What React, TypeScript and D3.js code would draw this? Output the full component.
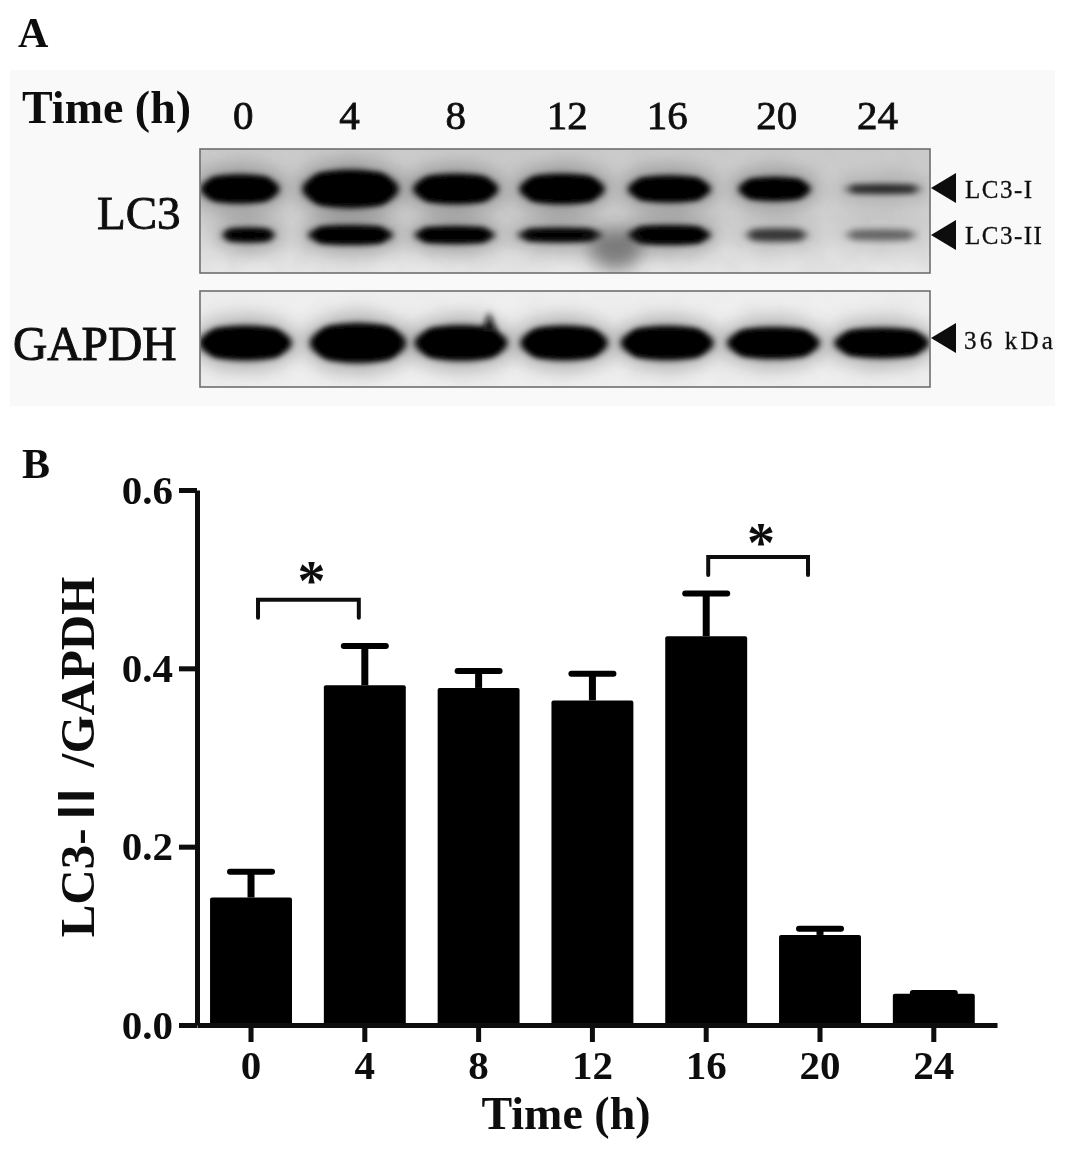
import React, { useEffect, useRef } from "react";
import * as d3 from "d3";

// ---------- data ----------
const times = ["0", "4", "8", "12", "16", "20", "24"];
const ratio = [0.143, 0.381, 0.378, 0.364, 0.436, 0.101, 0.035];
const ratioUpper = [0.172, 0.425, 0.397, 0.394, 0.484, 0.108, 0.036];
const yTicks = [0, 0.2, 0.4, 0.6];
const comparisons = [
  { from: "0", to: "4", level: 0.477 },
  { from: "16", to: "20", level: 0.525 },
];
// blot bands, in lane units
const lc3ILane = [0, 1.03, 2.01, 3.0, 4.0, 4.98, 5.99];
const lc3ISpan = [0.74, 0.9, 0.8, 0.8, 0.78, 0.68, 0.74];
const lc3IThick = [0.74, 1.0, 0.78, 0.78, 0.68, 0.6, 0.22];
const lc3IDensity = [1, 1, 1, 1, 1, 1, 0.62];
const lc3IILane = [0.08, 1.03, 2.0, 2.98, 4.0, 5.0, 5.97];
const lc3IISpan = [0.5, 0.8, 0.76, 0.8, 0.78, 0.6, 0.7];
const lc3IIThick = [0.34, 0.48, 0.42, 0.34, 0.48, 0.34, 0.3];
const lc3IIDensity = [0.95, 1, 1, 0.92, 1, 0.48, 0.3];
const gapdhLane = [0.05, 1.1, 2.06, 3.02, 3.98, 4.97, 5.98];
const gapdhSpan = [0.87, 0.9, 0.87, 0.82, 0.87, 0.87, 0.89];
const gapdhThick = [0.9, 1.04, 0.92, 0.9, 0.88, 0.82, 0.78];
const headerLane = [0.03, 1.02, 2.01, 3.05, 3.98, 5.0, 5.94];

const serif = "'Liberation Serif', 'Noto Sans CJK SC', serif";

export default function App() {
  const xAxisRef = useRef<SVGGElement>(null);
  const yAxisRef = useRef<SVGGElement>(null);

  const x = d3.scaleBand<string>().domain(times).range([197, 997]).paddingInner(0.28).paddingOuter(0.155).align(0.37);
  const y = d3.scaleLinear().domain([0, 0.6]).range([1025, 490]);
  const lane = d3.scaleLinear().domain([0, 6]).range([240, 884]);
  const laneLen = (v: number) => lane(v) - lane(0);
  const thick = d3.scaleLinear().domain([0, 1]).range([0, 38]);
  const mid = (k: string) => (x(k) as number) + x.bandwidth() / 2;

  useEffect(() => {
    const gx = d3.select(xAxisRef.current as SVGGElement);
    gx.call(d3.axisBottom(x).tickSize(17).tickSizeOuter(0).tickPadding(8) as any);
    const gy = d3.select(yAxisRef.current as SVGGElement);
    gy.call(d3.axisLeft(y).tickValues(yTicks).tickFormat(d3.format(".1f") as any).tickSize(18).tickSizeOuter(0).tickPadding(6) as any);
    [gx, gy].forEach((g) => {
      g.attr("fill", "#0a0a0a");
      g.selectAll("path.domain").attr("stroke", "#0a0a0a").attr("stroke-width", 5).attr("fill", "none");
      g.selectAll("line").attr("stroke", "#0a0a0a").attr("stroke-width", 5);
      g.selectAll("text").attr("fill", "#111").attr("font-family", serif).attr("font-weight", 700).attr("font-size", 41);
    });
    gx.selectAll("text").attr("dy", "0.71em");
  }, []);

  const bands = (laneArr: number[], span: number[], th: number[], dens: number[], cy: number, key: string) =>
    laneArr.map((l, i) => {
      const w = laneLen(span[i]);
      const h = thick(th[i]);
      return (
        <g key={key + i}>
          <ellipse cx={lane(l)} cy={cy} rx={w / 2 + 8} ry={h / 2 + 11} fill="#444" opacity={0.34 * dens[i]} filter="url(#blurWide)" />
          <ellipse cx={lane(l)} cy={cy} rx={w / 2} ry={h / 2} fill="#030303" opacity={dens[i]} filter="url(#blurBand)" />
          <rect x={lane(l) - w * 0.4} y={cy - h * 0.4} width={w * 0.8} height={h * 0.8} rx={h * 0.3} fill="#030303" opacity={dens[i]} filter="url(#blurBand)" />
        </g>
      );
    });

  const arrow = (ay: number, key: string) => (
    <path key={key} d={d3.line()([[931, ay], [956, ay - 15], [956, ay + 15]]) + "Z"} fill="#080808" />
  );

  return (
    <svg width={1067} height={1157} viewBox="0 0 1067 1157" style={{ position: "absolute", left: 0, top: 0, display: "block", background: "#fff" }}>
      <defs>
        <filter id="blurBand" x="-30%" y="-80%" width="160%" height="260%"><feGaussianBlur stdDeviation="3.2" /></filter>
        <filter id="blurWide" x="-40%" y="-80%" width="180%" height="260%"><feGaussianBlur stdDeviation="9" /></filter>
        <filter id="soft" x="-5%" y="-5%" width="110%" height="110%"><feGaussianBlur stdDeviation="0.55" /></filter>
        <filter id="grain" x="0" y="0" width="100%" height="100%">
          <feTurbulence type="fractalNoise" baseFrequency="0.035" numOctaves="3" seed="4" />
          <feColorMatrix values="0 0 0 0 0.45  0 0 0 0 0.45  0 0 0 0 0.45  0.55 0 0 0 -0.18" />
        </filter>
        <linearGradient id="blot1" x1="0" x2="0" y1="0" y2="1">
          <stop offset="0" stopColor="#cbcbcb" />
          <stop offset="0.55" stopColor="#d0d0d0" />
          <stop offset="1" stopColor="#e8e8e8" />
        </linearGradient>
        <clipPath id="clip1"><rect x={200} y={149} width={730} height={124} /></clipPath>
        <clipPath id="clip2"><rect x={200} y={291} width={730} height={96} /></clipPath>
      </defs>

      <g filter="url(#soft)">
        <rect x={10} y={70} width={1045} height={336} fill="#f9f9f9" />

        {/* panel A */}
        <text x={18} y={47} fontFamily={serif} fontWeight={700} fontSize={42} fill="#111">A</text>
        <text x={22} y={123} fontFamily={serif} fontWeight={700} fontSize={46} fill="#111">Time (h)</text>
        {times.map((t, i) => (
          <text key={t} x={lane(headerLane[i])} y={129} textAnchor="middle" fontFamily={serif} fontSize={41} stroke="#111" strokeWidth={0.8} fill="#111">{t}</text>
        ))}
        <text x={97} y={229} fontFamily={serif} fontSize={47} stroke="#111" strokeWidth={0.9} fill="#111">LC3</text>
        <text x={13} y={360} fontFamily={serif} fontSize={47.5} stroke="#111" strokeWidth={1} fill="#111">GAPDH</text>

        <g clipPath="url(#clip1)">
          <rect x={200} y={149} width={730} height={124} fill="url(#blot1)" />
          <rect x={200} y={149} width={730} height={124} filter="url(#grain)" opacity={0.5} />
          {bands(lc3ILane, lc3ISpan, lc3IThick, lc3IDensity, 189, "a")}
          {bands(lc3IILane, lc3IISpan, lc3IIThick, lc3IIDensity, 235, "b")}
          <ellipse cx={lane(3.5)} cy={250} rx={26} ry={20} fill="#333" opacity={0.55} filter="url(#blurWide)" />
        </g>
        <rect x={200} y={149} width={730} height={124} fill="none" stroke="#6e6e6e" strokeWidth={1.6} />

        <g clipPath="url(#clip2)">
          <rect x={200} y={291} width={730} height={96} fill="#efefef" />
          <rect x={200} y={291} width={730} height={96} filter="url(#grain)" opacity={0.2} />
          {bands(gapdhLane, gapdhSpan, gapdhThick, gapdhLane.map(() => 1), 343, "c")}
          <path d="M482,332 L489,312 L497,332 Z" fill="#111" filter="url(#blurBand)" />
        </g>
        <rect x={200} y={291} width={730} height={96} fill="none" stroke="#6e6e6e" strokeWidth={1.6} />

        {arrow(188, "a1")}
        {arrow(235, "a2")}
        {arrow(338, "a3")}
        <text x={965} y={198} fontFamily={serif} fontSize={25} letterSpacing={1.5} stroke="#111" strokeWidth={0.3} fill="#111">LC3-I</text>
        <text x={965} y={244} fontFamily={serif} fontSize={25} letterSpacing={1.5} stroke="#111" strokeWidth={0.3} fill="#111">LC3-II</text>
        <text x={964} y={349} fontFamily={serif} fontSize={25} letterSpacing={3.2} stroke="#111" strokeWidth={0.3} fill="#111">36 kDa</text>

        {/* panel B */}
        <text x={22} y={478} fontFamily={serif} fontWeight={700} fontSize={42} fill="#111">B</text>

        {times.map((t, i) => (
          <g key={t}>
            <line x1={mid(t)} x2={mid(t)} y1={y(ratio[i])} y2={y(ratioUpper[i])} stroke="#050505" strokeWidth={7} />
            <line x1={mid(t) - 21} x2={mid(t) + 21} y1={y(ratioUpper[i])} y2={y(ratioUpper[i])} stroke="#050505" strokeWidth={6} strokeLinecap="round" />
            <rect x={x(t)} y={y(ratio[i])} width={x.bandwidth()} height={y(0) - y(ratio[i])} rx={2} fill="#050505" />
          </g>
        ))}

        <g ref={xAxisRef} transform="translate(0,1025)" />
        <g ref={yAxisRef} transform="translate(197,0)" />

        {comparisons.map((c, i) => {
          const x0 = mid(c.from) + (i === 0 ? 7 : 2);
          const x1 = mid(c.to) + (i === 0 ? -6 : -12);
          const top = y(c.level);
          return (
            <g key={c.from}>
              <path d={`M${x0},${top + 18} V${top} H${x1} V${top + 18}`} fill="none" stroke="#111" strokeWidth={4} strokeLinecap="round" />
              <text x={(x0 + x1) / 2 + 3} y={top + (i === 0 ? 0 : 5)} textAnchor="middle" fontFamily={serif} fontWeight={700} fontSize={56} fill="#111">*</text>
            </g>
          );
        })}

        <text x={566} y={1129} textAnchor="middle" fontFamily={serif} fontWeight={700} fontSize={46} fill="#111">Time (h)</text>
        <text transform="translate(94,757) rotate(-90)" textAnchor="middle" fontFamily={serif} fontWeight={700} fontSize={49} fill="#111">LC3-Ⅱ /GAPDH</text>
      </g>
    </svg>
  );
}
